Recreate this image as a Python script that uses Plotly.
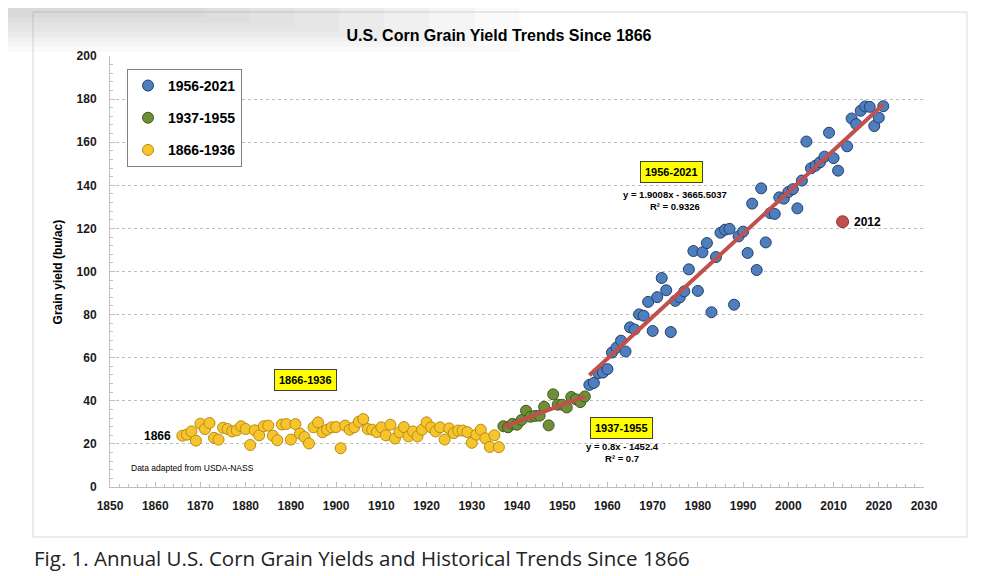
## import packages
import numpy as np
import plotly.graph_objects as go


years_early = list(range(1866, 1937))
yield_early = [23.8, 24.3, 25.8, 21.5, 29.4, 26.9, 29.7, 22.8, 22.0, 27.5,
               26.9, 25.8, 26.3, 28.2, 26.9, 19.5, 26.3, 24.0, 28.2, 28.5,
               23.8, 21.7, 29.0, 29.2, 22.0, 29.2, 24.8, 23.2, 20.2, 27.7,
               30.0, 25.4, 26.6, 27.7, 27.8, 18.0, 28.5, 26.6, 27.7, 30.3,
               31.5, 26.9, 26.6, 25.5, 27.7, 24.0, 28.9, 22.5, 25.4, 27.8,
               23.5, 25.8, 23.5, 26.6, 30.0, 27.7, 25.8, 27.7, 22.0, 27.2,
               25.0, 26.2, 26.2, 25.5, 20.5, 24.3, 26.6, 22.6, 18.6, 24.0,
               18.5]

years_mid = list(range(1937, 1956))
yield_mid = [28.2, 27.7, 29.3, 28.9, 31.1, 35.4, 32.6, 33.0, 33.1, 37.2,
             28.6, 43.0, 38.2, 38.2, 36.9, 41.8, 40.7, 39.4, 42.0]

years_recent = list(range(1956, 2022))
yield_recent = [47.4, 48.3, 52.8, 53.1, 54.7, 62.4, 64.7, 67.9, 62.9, 74.1,
                73.1, 80.1, 79.5, 85.9, 72.4, 88.1, 97.0, 91.3, 71.9, 86.4,
                88.0, 90.8, 101.0, 109.5, 91.0, 108.9, 113.2, 81.1, 106.7, 118.0,
                119.4, 119.8, 84.6, 116.3, 118.5, 108.6, 131.5, 100.7, 138.6, 113.5,
                127.1, 126.7, 134.4, 133.8, 136.9, 138.2, 129.3, 142.2, 160.3, 147.9,
                149.1, 150.7, 153.3, 164.4, 152.6, 146.8, 123.1, 158.1, 171.0, 168.4,
                174.6, 176.6, 176.4, 167.5, 171.4, 176.7]

outlier_year = 2012

x_ticks = list(range(1850, 2031, 10))
y_ticks = list(range(0, 201, 20))

eq_mid = "y = 0.8x - 1452.4<br>R² = 0.7"
eq_recent = "y = 1.9008x - 3665.5037<br>R² = 0.9326"


## split off the 2012 drought year
idx_out = years_recent.index(outlier_year)
yrs_blue = [y for y in years_recent if y != outlier_year]
val_blue = [v for y, v in zip(years_recent, yield_recent) if y != outlier_year]
val_out = yield_recent[idx_out]


### trend lines ----
def trend(xs, ys):
    k, b = np.polyfit(xs, ys, 1)
    return [xs[0], xs[-1]], [k * xs[0] + b, k * xs[-1] + b]


trend_mid = trend(years_mid, yield_mid)
trend_recent = trend(yrs_blue, val_blue)


### chart ----
fig = go.Figure()

groups = [
    ('1956-2021', yrs_blue, val_blue, '#4F7EBF', '#24406B'),
    ('1937-1955', years_mid, yield_mid, '#6E8E38', '#41591E'),
    ('1866-1936', years_early, yield_early, '#F6C42C', '#B98C12'),
]
for name, xs, ys, fill, edge in groups:
    fig.add_trace(go.Scatter(
        x=xs, y=ys, mode='markers', name=f'<b>{name}</b>', legendgroup=name,
        marker=dict(color=fill, size=11, line=dict(color=edge, width=1)),
    ))

for tx, ty in (trend_mid, trend_recent):
    fig.add_trace(go.Scatter(
        x=tx, y=ty, mode='lines', showlegend=False, hoverinfo='skip',
        line=dict(color='#C0504D', width=4),
    ))

fig.add_trace(go.Scatter(
    x=[outlier_year], y=[val_out], mode='markers', showlegend=False,
    marker=dict(color='#C0504D', size=12, line=dict(color='#8B3330', width=1)),
))

font = 'Arial, Liberation Sans, sans-serif'
box = dict(bgcolor='#FFFF00', bordercolor='#404040', borderwidth=1, borderpad=4,
           font=dict(family=font, size=11, color='black'), showarrow=False)

annotations = [
    dict(x=1893.3, y=49.6, text='<b>1866-1936</b>', **box),
    dict(x=1963.2, y=27.5, text='<b>1937-1955</b>', **box),
    dict(x=1974.2, y=146.3, text='<b>1956-2021</b>', **box),
    dict(x=1963.3, y=15.8, text=f'<b>{eq_mid}</b>', showarrow=False,
         font=dict(family=font, size=9.5, color='black')),
    dict(x=1975.0, y=132.9, text=f'<b>{eq_recent}</b>', showarrow=False,
         font=dict(family=font, size=9.5, color='black')),
    dict(x=outlier_year, y=val_out, text='<b>2012</b>', xanchor='left', xshift=9,
         showarrow=False, font=dict(family=font, size=12, color='black')),
    dict(x=years_early[0], y=yield_early[0], text='<b>1866</b>', xanchor='right', xshift=-9,
         showarrow=False, font=dict(family=font, size=12, color='black')),
    dict(x=1854.3, y=8.8, text='Data adapted from USDA-NASS', xanchor='left',
         showarrow=False, font=dict(family=font, size=8.5, color='black')),
    # y axis title
    dict(xref='paper', yref='paper', x=-0.064, y=0.5, xanchor='center', yanchor='middle',
         text='<b>Grain yield (bu/ac)</b>', textangle=-90, showarrow=False,
         font=dict(family=font, size=12, color='black')),
    # page caption below the image
    dict(xref='paper', yref='paper', x=-0.0958, y=-0.128, xanchor='left', yanchor='top',
         text='Fig. 1. Annual U.S. Corn Grain Yields and Historical Trends Since 1866',
         showarrow=False, font=dict(family='Open Sans, sans-serif', size=20.5, color='#222222')),
]

shapes = [
    # the image card
    dict(type='rect', xref='paper', yref='paper', x0=-0.0946, x1=1.0528, y0=-0.116, y1=1.102,
         fillcolor='white', line=dict(color='#D9D9D9', width=1), layer='below'),
]
# faint grey smudge in the top-left corner of the page
for i in range(8):
    shapes.append(dict(type='rect', xref='paper', yref='paper',
                       x0=-0.136, x1=-0.136 + (520 - 45 * i) / 814,
                       y0=1.13 - (52 - 5 * i) / 431, y1=1.13,
                       fillcolor='#8A8A8A', opacity=0.045, line=dict(width=0), layer='below'))

axis_common = dict(
    showline=True, linecolor='#BFBFBF', linewidth=1, zeroline=False,
    ticks='inside', ticklen=5, tickcolor='#BFBFBF',
    tickfont=dict(family=font, size=12, color='#1A1A1A', weight='bold'),
)

fig.update_layout(
    width=985, height=568,
    margin=dict(l=102, r=69, t=48, b=89),
    paper_bgcolor='white', plot_bgcolor='white',
    title=dict(text='<b>U.S. Corn Grain Yield Trends Since 1866</b>', xref='container',
               x=0.4985, y=0.9525, xanchor='center', yanchor='middle',
               font=dict(family=font, size=16, color='black')),
    xaxis=dict(range=[1850, 2030], tickvals=x_ticks, showgrid=False,
               ticklabelstandoff=8,
               minor=dict(dtick=2, ticks='inside', ticklen=3, tickcolor='#BFBFBF'),
               **axis_common),
    yaxis=dict(range=[0, 200], tickvals=y_ticks, showgrid=True, gridcolor='#BFBFBF',
               griddash='dot', gridwidth=1, ticklabelstandoff=10,
               minor=dict(dtick=4, ticks='inside', ticklen=3, tickcolor='#BFBFBF'),
               **axis_common),
    legend=dict(x=0.0209, y=0.970, xanchor='left', yanchor='top',
                bgcolor='white', bordercolor='#808080', borderwidth=1,
                tracegroupgap=11, font=dict(family=font, size=14, color='black')),
    annotations=annotations,
    shapes=shapes,
)

fig.write_html("out.html")
